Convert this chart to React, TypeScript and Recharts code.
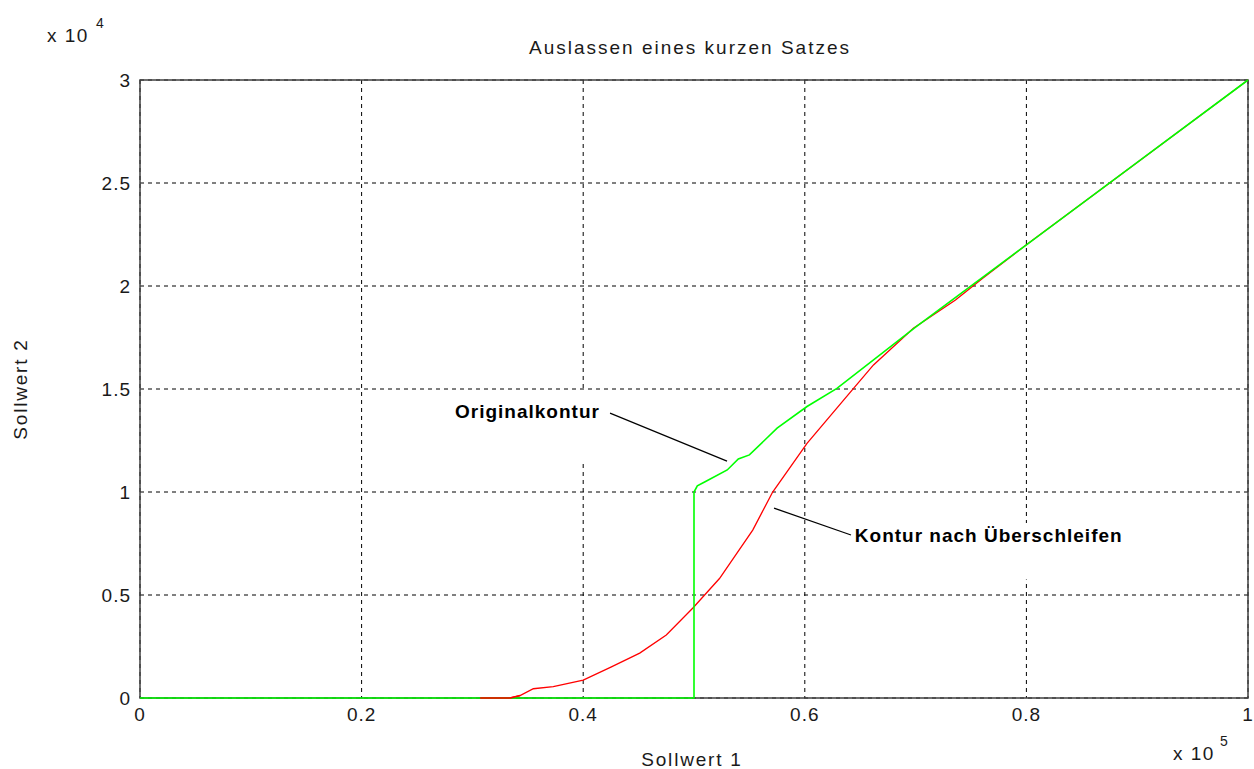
import React from 'react';
import {
  LineChart,
  Line,
  XAxis,
  YAxis,
  CartesianGrid,
  ReferenceLine,
  ReferenceArea,
  ReferenceDot,
} from 'recharts';

// Axis ticks (axis units: Sollwert 1 in 1e5, Sollwert 2 in 1e4)
const xTicks = [0, 0.2, 0.4, 0.6, 0.8, 1];
const yTicks = [0, 0.5, 1, 1.5, 2, 2.5, 3];

// Originalkontur (green)
const originalX = [0, 0.5, 0.5, 0.503, 0.51, 0.53, 0.54, 0.55, 0.575, 0.602, 0.629, 0.7, 0.8, 0.9, 1];
const originalY = [0, 0, 1.0, 1.03, 1.05, 1.107, 1.16, 1.18, 1.31, 1.415, 1.503, 1.8, 2.2, 2.6, 3];

// Kontur nach Überschleifen (red)
const smoothX = [0.307, 0.334, 0.343, 0.355, 0.373, 0.4, 0.425, 0.451, 0.475, 0.499, 0.523, 0.553, 0.571, 0.602, 0.644, 0.662, 0.698, 0.736, 0.76, 0.8, 0.9, 1];
const smoothY = [0, 0, 0.012, 0.045, 0.055, 0.087, 0.15, 0.218, 0.306, 0.437, 0.58, 0.815, 1.0, 1.236, 1.503, 1.617, 1.795, 1.932, 2.035, 2.2, 2.6, 3];

const originalData = originalX.map((x, i) => ({ x, y: originalY[i] }));
const smoothData = smoothX.map((x, i) => ({ x, y: smoothY[i] }));
// the first flat piece of the red contour lies on top of the green one
const smoothStart = smoothData.slice(0, 3);

const FONT = '"Liberation Sans", Arial, sans-serif';
const TEXT_COLOR = '#1a1a1a';

const fmt = (v: number) => String(v);

export default function App() {
  return (
    <div style={{ position: 'absolute', left: 0, top: 0, width: 1254, height: 769, background: '#fff' }}>
      <LineChart
        width={1254}
        height={769}
        margin={{ top: 80, right: 6, bottom: 0, left: 0 }}
        style={{ fontFamily: FONT }}
      >
        <CartesianGrid
          stroke="#000"
          strokeDasharray="4 4"
          strokeWidth={1}
          horizontalValues={yTicks}
          verticalValues={xTicks}
        />
        <XAxis
          type="number"
          dataKey="x"
          domain={[0, 1]}
          ticks={xTicks}
          tickFormatter={fmt}
          height={71}
          tickSize={0}
          tickMargin={10}
          tickLine={false}
          axisLine={false}
          tick={{ fill: TEXT_COLOR, fontSize: 19, letterSpacing: 1 }}
          interval={0}
          allowDecimals
        />
        <YAxis
          type="number"
          dataKey="y"
          domain={[0, 3]}
          ticks={yTicks}
          tickFormatter={fmt}
          width={140}
          tickSize={0}
          tickMargin={9}
          tickLine={false}
          axisLine={false}
          tick={{ fill: TEXT_COLOR, fontSize: 19, letterSpacing: 1 }}
          interval={0}
        />

        {/* axes box */}
        <ReferenceArea x1={0} x2={1} y1={0} y2={3} fill="none" stroke="#404040" strokeWidth={1.5} />

        {/* white backgrounds of the annotation texts */}
        <ReferenceArea x1={0.28} x2={0.42} y1={1.14} y2={1.485} fill="#fff" fillOpacity={1} stroke="none" />
        <ReferenceArea x1={0.646} x2={0.9} y1={0.575} y2={0.85} fill="#fff" fillOpacity={1} stroke="none" />

        <Line
          data={smoothData}
          dataKey="y"
          type="linear"
          stroke="#ff0000"
          strokeWidth={1.3}
          dot={false}
          isAnimationActive={false}
        />
        <Line
          data={originalData}
          dataKey="y"
          type="linear"
          stroke="#00ff00"
          strokeWidth={1.6}
          dot={false}
          isAnimationActive={false}
        />
        <Line
          data={smoothStart}
          dataKey="y"
          type="linear"
          stroke="#ff0000"
          strokeWidth={1.6}
          dot={false}
          isAnimationActive={false}
        />

        {/* leader lines */}
        <ReferenceLine
          segment={[{ x: 0.4242, y: 1.383 }, { x: 0.5298, y: 1.15 }]}
          stroke="#000"
          strokeWidth={1.2}
        />
        <ReferenceLine
          segment={[{ x: 0.5722, y: 0.922 }, { x: 0.6417, y: 0.791 }]}
          stroke="#000"
          strokeWidth={1.2}
        />

        <ReferenceDot
          x={0.3497}
          y={1.392}
          r={0}
          fill="none"
          stroke="none"
          label={{
            value: 'Originalkontur',
            position: 'center',
            fill: '#000',
            fontSize: 19,
            fontWeight: 'bold',
            letterSpacing: 1,
            fontFamily: FONT,
          }}
        />
        <ReferenceDot
          x={0.766}
          y={0.789}
          r={0}
          fill="none"
          stroke="none"
          label={{
            value: 'Kontur nach Überschleifen',
            position: 'center',
            fill: '#000',
            fontSize: 19,
            fontWeight: 'bold',
            letterSpacing: 1,
            fontFamily: FONT,
          }}
        />
      </LineChart>

      <svg
        width={1254}
        height={769}
        style={{ position: 'absolute', left: 0, top: 0, pointerEvents: 'none', fontFamily: FONT }}
      >
        <text x={690} y={54} textAnchor="middle" fontSize={19} letterSpacing={2} fill={TEXT_COLOR}>
          Auslassen eines kurzen Satzes
        </text>
        <text x={692} y={766} textAnchor="middle" fontSize={19} letterSpacing={1.8} fill={TEXT_COLOR}>
          Sollwert 1
        </text>
        <text
          x={27}
          y={389}
          textAnchor="middle"
          fontSize={19}
          letterSpacing={1.8}
          fill={TEXT_COLOR}
          transform="rotate(-90 27 389)"
        >
          Sollwert 2
        </text>
        <text x={47} y={42} fontSize={19} letterSpacing={1.5} fill={TEXT_COLOR}>
          x 10
        </text>
        <text x={96} y={28} fontSize={14} fill={TEXT_COLOR}>
          4
        </text>
        <text x={1173} y={760} fontSize={19} letterSpacing={1.5} fill={TEXT_COLOR}>
          x 10
        </text>
        <text x={1220} y={746} fontSize={14} fill={TEXT_COLOR}>
          5
        </text>
      </svg>
    </div>
  );
}
